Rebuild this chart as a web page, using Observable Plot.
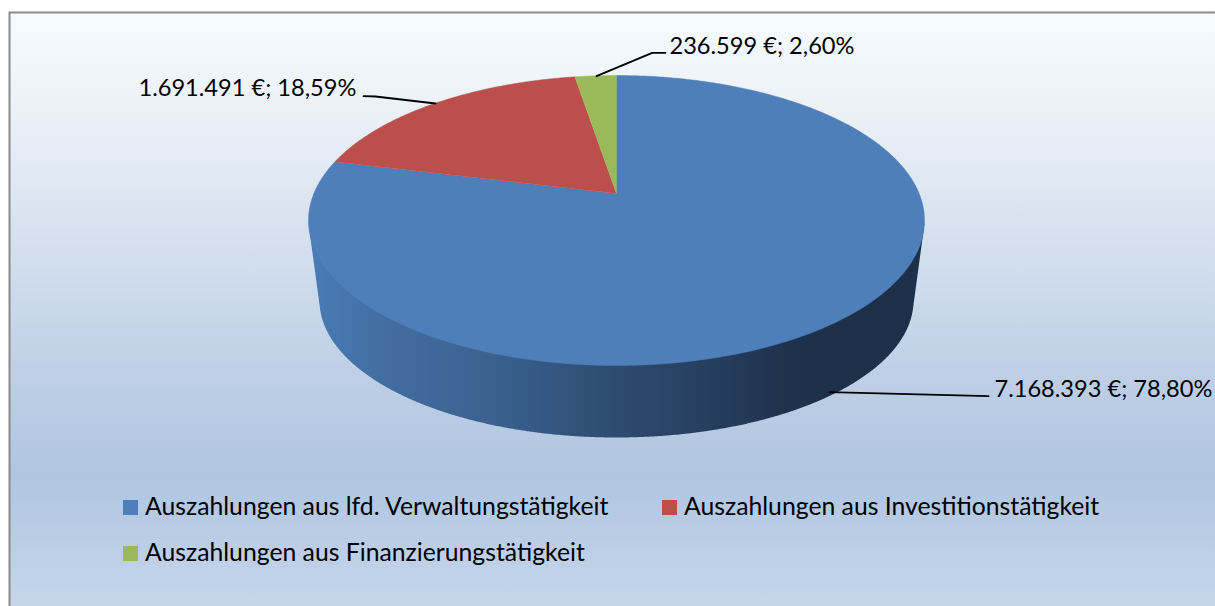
<!DOCTYPE html>
<html lang="de">
<head>
<meta charset="utf-8">
<script src="https://cdn.jsdelivr.net/npm/d3@7"></script>
<script src="https://cdn.jsdelivr.net/npm/@observablehq/plot@0.6"></script>
<style>html,body{margin:0;padding:0;background:#fff}svg{display:block}</style>
</head>
<body>
<div id="chart"></div>
<script>
const categories = [
  "Auszahlungen aus lfd. Verwaltungstätigkeit",
  "Auszahlungen aus Investitionstätigkeit",
  "Auszahlungen aus Finanzierungstätigkeit"
];
const amounts = [7168393, 1691491, 236599];
const sliceColors = ["#4e7fbb", "#bc4f4c", "#9aba59"];

// Layout of the drawing (not data)
const W = 1215, H = 606, FONT = "Lato, Carlito, sans-serif", FS_LABEL = 23.6, FS_LEGEND = 24.75;
const CX = 616;
// Perspective projection of the pie's top disc (apex 193, near edge 365, far edge 75)
const PY0 = 193, PA = -104.03, PC = 0.1862, PD = 302.6;
const topPoint = (u, v) => ({x: CX + PD * u / (1 + PC * v), y: (PY0 + PA * v) / (1 + PC * v)});
// Outline of the disc at the bottom of the pie
const BOT = {rx: 297, ry: 137, cy: 300};

const total = d3.sum(amounts);
const pieAngles = d3.pie().sort(null).startAngle(0).endAngle(2 * Math.PI)(amounts);
const de = d3.formatLocale({decimal: ",", thousands: ".", grouping: [3], currency: ["", " €"]});
const fmtAmount = de.format(",d"), fmtPct = de.format(".2f");
const labelOf = i => `${fmtAmount(amounts[i])} €; ${fmtPct(amounts[i] / total * 100)}%`;

// Slices are traced from the values
const sliceRows = pieAngles.flatMap((a, i) => {
  const n = Math.max(2, Math.ceil((a.endAngle - a.startAngle) / 0.01));
  const rows = [{c: categories[i], ...topPoint(0, 0)}];
  for (let k = 0; k <= n; k++) {
    const t = a.startAngle + (a.endAngle - a.startAngle) * k / n;
    rows.push({c: categories[i], ...topPoint(Math.sin(t), Math.cos(t))});
  }
  return rows;
});

// Side wall: hull of the top rim's widest points and the bottom outline
const wallPts = [[308, 223], [924, 223]];
for (let k = 0; k <= 720; k++) {
  const t = Math.PI * k / 720;
  wallPts.push([CX - BOT.rx * Math.cos(t), BOT.cy + BOT.ry * Math.sin(t)]);
}
const wall = d3.polygonHull(wallPts).map(([x, y]) => ({x, y}));

// Leader lines and label anchors per slice
const leaders = [
  [{x: 829, y: 391.7}, {x: 988, y: 395.7}],
  [{x: 363, y: 95.7}, {x: 375, y: 96}, {x: 435, y: 103}],
  [{x: 665, y: 52.3}, {x: 651.7, y: 52.3}, {x: 596, y: 75.7}]
].flatMap((pts, i) => pts.map(p => ({...p, i})));
const labels = [
  {x: 994, y: 389, i: 0},
  {x: 138, y: 88, i: 1},
  {x: 669, y: 46, i: 2}
];
const legendRows = [
  {x: 123, y: 500, i: 0},
  {x: 662, y: 500, i: 1},
  {x: 123, y: 546, i: 2}
];

const defs = () => {
  const s = d3.create("svg:defs");
  const grad = (id, attrs, stops) => {
    const g = s.append("linearGradient").attr("id", id).attr("gradientUnits", "userSpaceOnUse");
    Object.entries(attrs).forEach(([k, v]) => g.attr(k, v));
    stops.forEach(([o, c]) => g.append("stop").attr("offset", o).attr("stop-color", c));
  };
  grad("bgGrad", {x1: 0, y1: 12, x2: 0, y2: 606}, [
    [0, "#f6fbfe"], [0.15, "#edf2f8"], [0.35, "#d8e3f0"], [0.6, "#bfd0e6"], [0.78, "#afc5e0"], [1, "#c5d6ea"]
  ]);
  grad("wallGrad", {x1: 308, y1: 0, x2: 924, y2: 0}, [
    [0, "#4a7cb6"], [0.12, "#436ea2"], [0.3, "#3a618f"], [0.5, "#2d4b70"], [0.66, "#263e5d"], [0.76, "#1f334f"], [0.85, "#1c304a"], [1, "#1c304a"]
  ]);
  return s.node();
};

const chart = Plot.plot({
  width: W, height: H, margin: 0,
  style: {background: "#fff"},
  x: {domain: [0, W], range: [0, W], axis: null},
  y: {domain: [0, H], range: [0, H], axis: null},
  color: {type: "ordinal", domain: categories, range: sliceColors},
  marks: [
    defs,
    Plot.frame({fill: "url(#bgGrad)", stroke: "#8a8a8a", strokeWidth: 2, insetLeft: 9, insetTop: 12, insetRight: -10, insetBottom: -10}),
    Plot.line(wall, {x: "x", y: "y", fill: "url(#wallGrad)", stroke: "none"}),
    Plot.line(sliceRows, {x: "x", y: "y", z: "c", fill: "c", stroke: "c", strokeWidth: 0.5}),
    Plot.line(leaders, {x: "x", y: "y", z: "i", stroke: "#000", strokeWidth: 1.8}),
    Plot.text(labels, {x: "x", y: "y", text: d => labelOf(d.i), textAnchor: "start", lineAnchor: "middle", fontFamily: FONT, fontSize: FS_LABEL, fill: "#000"}),
    Plot.rect(legendRows, {x1: "x", x2: d => d.x + 15, y1: "y", y2: d => d.y + 15, fill: d => categories[d.i]}),
    Plot.text(legendRows, {x: d => d.x + 21.5, y: d => d.y + 7, text: d => categories[d.i], textAnchor: "start", lineAnchor: "middle", fontFamily: FONT, fontSize: FS_LEGEND, fill: "#000"})
  ]
});
document.getElementById("chart").append(chart);
</script>
</body>
</html>
